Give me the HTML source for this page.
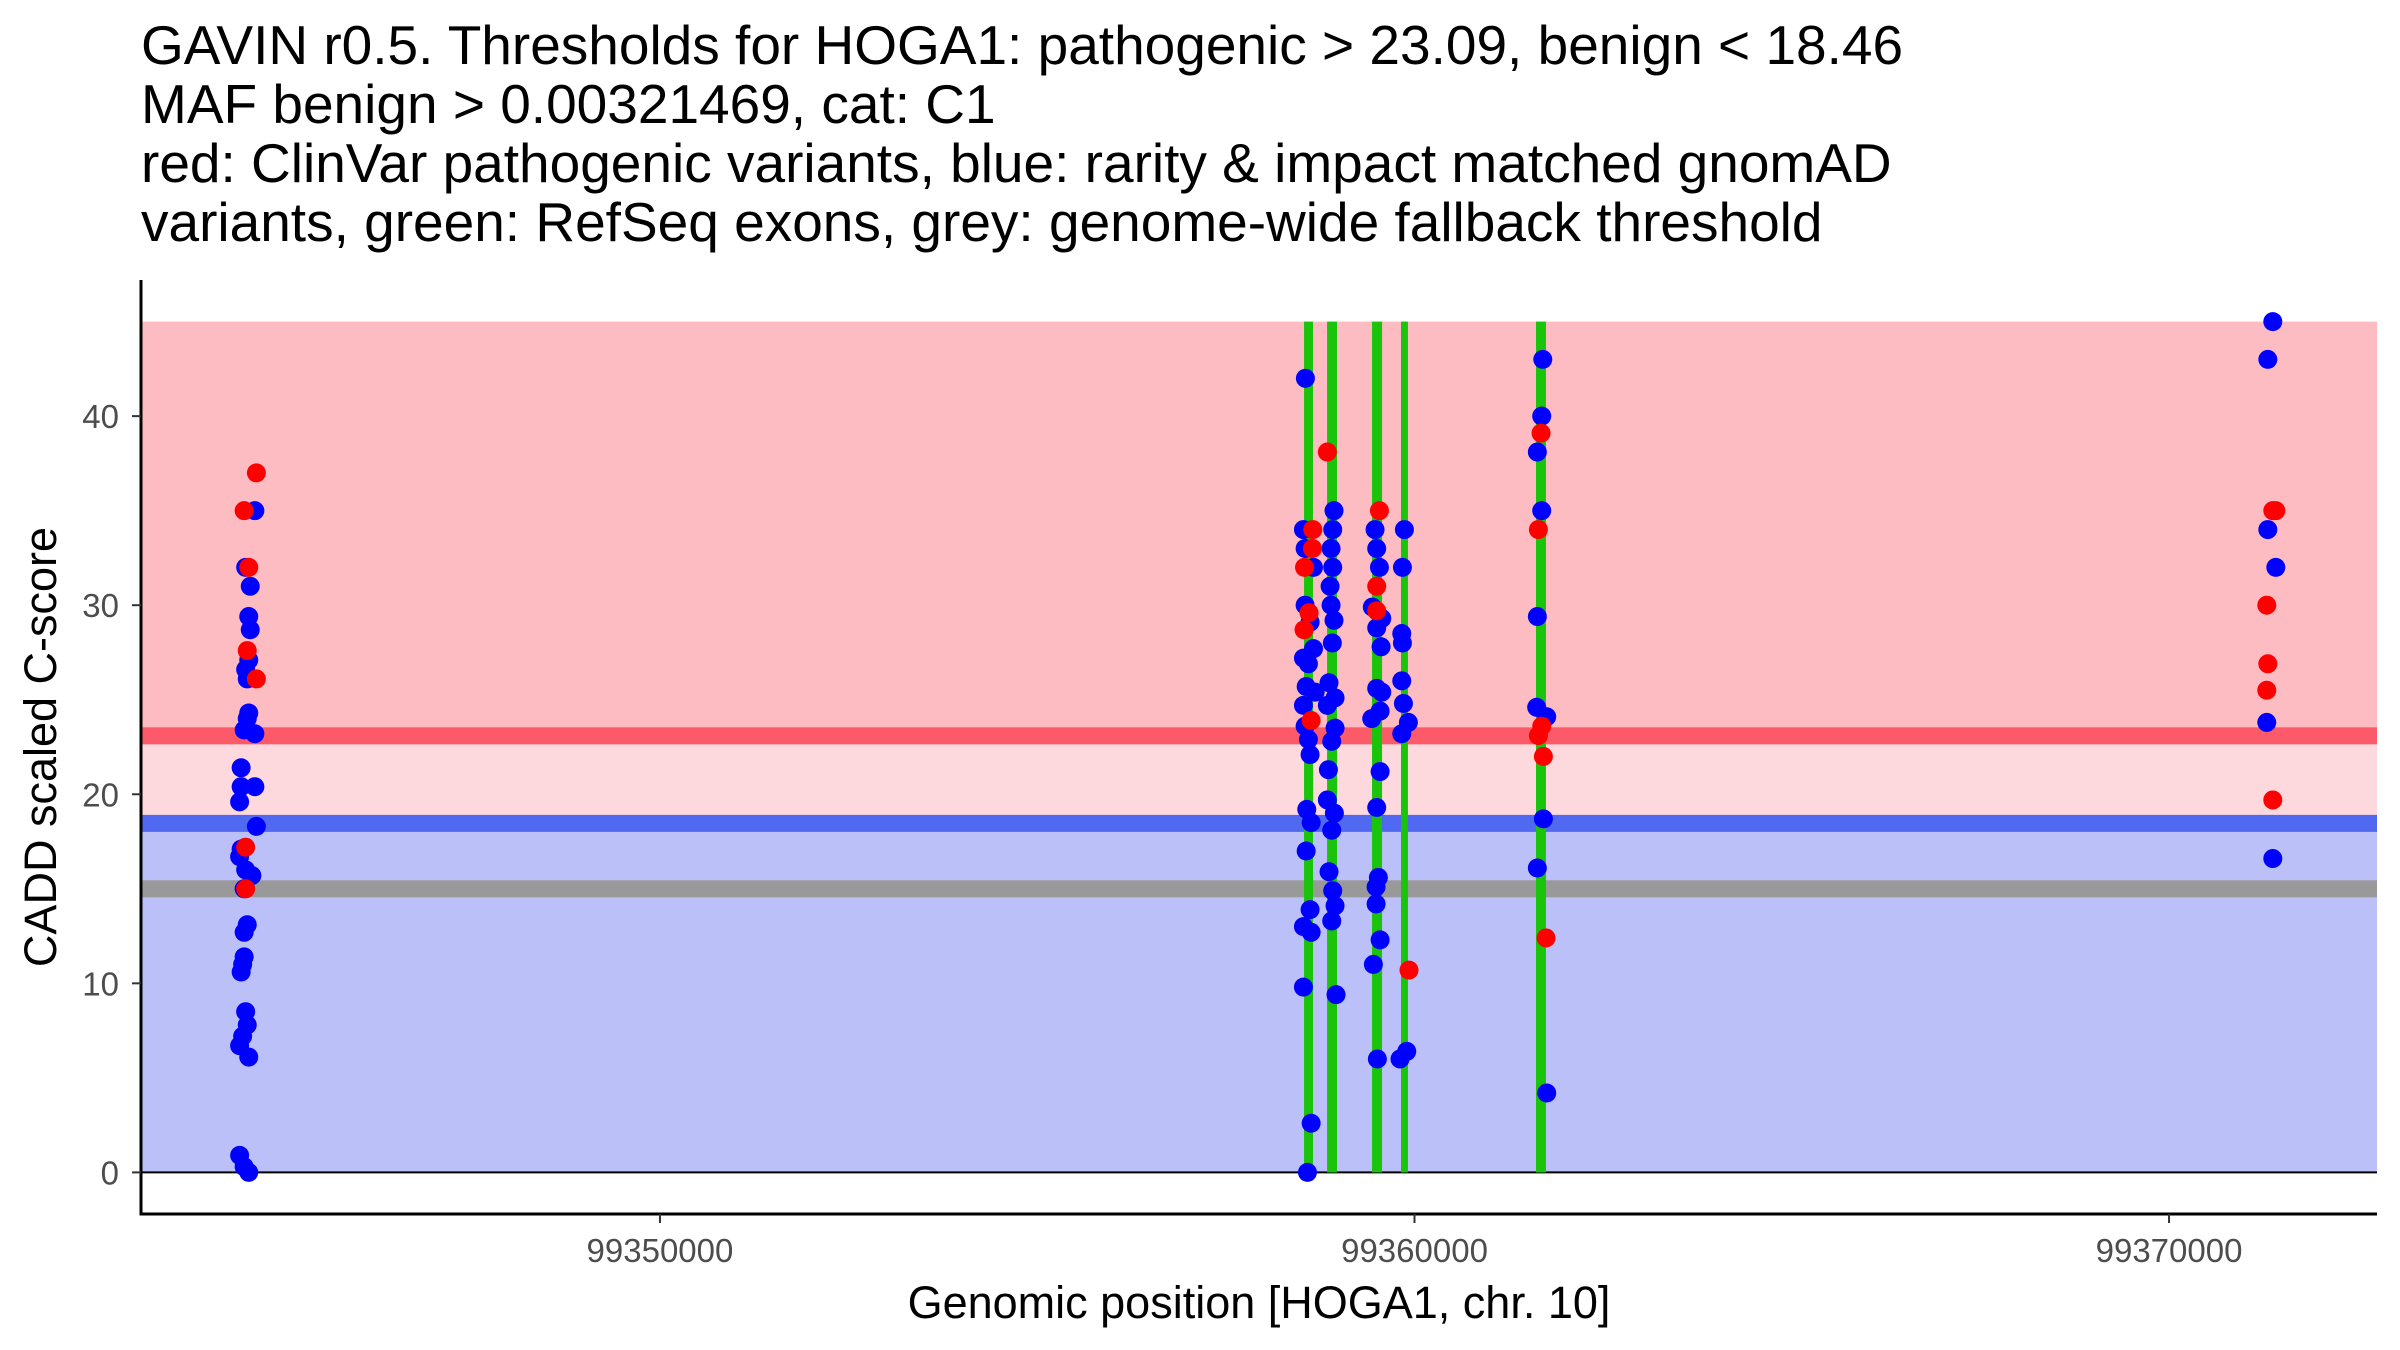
<!DOCTYPE html>
<html><head><meta charset="utf-8"><style>
html,body{margin:0;padding:0;background:#fff;}
svg{display:block;}
text{font-family:"Liberation Sans",Arial,sans-serif;}
</style></head><body>
<svg id="chart" width="2400" height="1350" viewBox="0 0 2400 1350" xmlns="http://www.w3.org/2000/svg">
<g font-size="55" fill="#000">
<text x="141" y="64">GAVIN r0.5. Thresholds for HOGA1: pathogenic &gt; 23.09, benign &lt; 18.46</text>
<text x="141" y="123">MAF benign &gt; 0.00321469, cat: C1</text>
<text x="141" y="182">red: ClinVar pathogenic variants, blue: rarity &amp; impact matched gnomAD</text>
<text x="141" y="241">variants, green: RefSeq exons, grey: genome-wide fallback threshold</text>
</g>
<g id="bands"></g>
<g id="exons"></g>
<g id="points"></g>
<g id="axes"></g>
<text x="0" y="0" font-size="45" text-anchor="middle" transform="translate(56,747) rotate(-90)">CADD scaled C-score</text>
<text x="1259" y="1318" font-size="45" text-anchor="middle">Genomic position [HOGA1, chr. 10]</text>
</svg>
<script>
const xTicks = [99350000, 99360000, 99370000];
const yTicks = [0, 10, 20, 30, 40];
const pathoThr = 23.09, benignThr = 18.46, fallbackThr = 15, bandTop = 45;
const exonStart = [99358536, 99358841, 99359437, 99359821, 99361610];
const exonEnd   = [99358655, 99358973, 99359570, 99359913, 99361742];
// blue gnomAD variants
const blueX = [
99344631,99344509,99344570,99344550,99344570,99344550,99344509,99344530,99344550,99344530,99344489,99344631,99344449,99344449,99344631,99344429,99344651,99344449,99344429,99344509,99344591,99344489,99344530,99344489,99344489,99344469,99344449,99344509,99344530,99344469,99344429,99344550,99344429,99344489,99344550,
99358554,99358528,99358550,99358661,99358550,99358616,99358661,99358528,99358594,99358564,99358683,99358528,99358550,99358594,99358616,99358572,99358630,99358564,99358616,99358528,99358630,99358528,99358630,99358581,
99358933,99358916,99358894,99358916,99358881,99358894,99358933,99358911,99358867,99358947,99358845,99358947,99358903,99358859,99358845,99358938,99358903,99358867,99358916,99358947,99358903,99358960,
99359477,99359499,99359535,99359441,99359566,99359499,99359557,99359499,99359566,99359544,99359433,99359544,99359499,99359521,99359491,99359491,99359544,99359455,99359508,
99359866,99359840,99359831,99359840,99359831,99359853,99359919,99359831,99359897,99359808,
99361700,99361686,99361628,99361686,99361628,99361619,99361752,99361708,99361628,99361752,
99371375,99371309,99371309,99371415,99371295,99371375];
const blueY = [
35,32,31,29.4,28.7,27.1,26.6,26.1,24.3,24,23.4,23.2,21.4,20.4,20.4,19.6,18.3,17.1,16.7,16,15.7,15,13.1,12.7,11.4,11,10.6,8.5,7.8,7.2,6.7,6.1,0.9,0.3,0,
42,34,33,32,30,29.1,27.7,27.2,26.9,25.7,25.4,24.7,23.6,22.9,22.1,19.2,18.5,17,13.9,13,12.7,9.8,2.6,0,
35,34,33,32,31,30,29.2,28,25.9,25.1,24.7,23.5,22.8,21.3,19.7,19,18.1,15.9,14.9,14.1,13.3,9.4,
34,33,32,29.9,29.3,28.8,27.8,25.6,25.4,24.4,24,21.2,19.3,15.6,15.1,14.2,12.3,11,6,
34,32,28.5,28,26,24.8,23.8,23.2,6.4,6,
43,40,38.1,35,29.4,24.6,24.1,18.7,16.1,4.2,
45,43,34,32,23.8,16.6];
// red ClinVar pathogenic variants
const redX = [
99344651,99344489,99344550,99344530,99344651,99344509,99344509,
99358652,99358648,99358542,99358602,99358536,99358630,
99358845,99359535,99359499,99359499,99359927,
99361677,99361642,99361686,99361642,99361708,99361743,
99371375,99371415,99371295,99371309,99371295,99371375];
const redY = [
37,35,32,27.6,26.1,17.2,15,
34,33,32,29.6,28.7,23.9,
38.1,35,31,29.7,10.7,
39.1,34,23.6,23.1,22,12.4,
35,35,30,26.9,25.5,19.7];

const NS='http://www.w3.org/2000/svg';
const X0=141, X1=2377, Y0=1214, Ytop=280;
const xMin=99343122, xMax=99372756, yMin=-2.2, yMax=47.2;
function xs(v){return X0+(v-xMin)/(xMax-xMin)*(X1-X0);}
function ys(v){return Y0-(v-yMin)/(yMax-yMin)*(Y0-Ytop);}
function mk(tag,attrs,parent){const e=document.createElementNS(NS,tag);for(const k in attrs)e.setAttribute(k,attrs[k]);parent.appendChild(e);return e;}

const bands=document.getElementById('bands');
let r;
r=mk('rect',{x:X0,y:ys(bandTop),width:X1-X0,height:ys(pathoThr)-ys(bandTop),fill:'#fcbcc1'},bands);


r=mk('rect',{x:X0,y:ys(pathoThr),width:X1-X0,height:ys(benignThr)-ys(pathoThr),fill:'#fdd8dc'},bands);


r=mk('rect',{x:X0,y:ys(benignThr),width:X1-X0,height:ys(0)-ys(benignThr),fill:'#bbc0f8'},bands);


r=mk('rect',{x:X0,y:ys(pathoThr)-8.5,width:X1-X0,height:17,fill:'#fc5a68'},bands);


r=mk('rect',{x:X0,y:ys(benignThr)-8.5,width:X1-X0,height:17,fill:'#5168f0'},bands);


r=mk('rect',{x:X0,y:ys(fallbackThr)-8.5,width:X1-X0,height:17,fill:'#999999'},bands);


r=mk('line',{x1:X0,x2:X1,y1:ys(0),y2:ys(0),stroke:'#000','stroke-width':2},bands);



const ex=document.getElementById('exons');
for(let i=0;i<exonStart.length;i++){
  const e=mk('rect',{x:xs(exonStart[i]),y:ys(bandTop),width:xs(exonEnd[i])-xs(exonStart[i]),height:ys(0)-ys(bandTop),fill:'#1ac40a'},ex);
  
  
}
const pts=document.getElementById('points');
for(let i=0;i<blueX.length;i++){
  const c=mk('circle',{cx:xs(blueX[i]),cy:ys(blueY[i]),r:9.5,fill:'#0000ff'},pts);
  
  
}
for(let i=0;i<redX.length;i++){
  const c=mk('circle',{cx:xs(redX[i]),cy:ys(redY[i]),r:9.5,fill:'#ff0000'},pts);
  
  
}
const ax=document.getElementById('axes');
let a=mk('line',{x1:X0,x2:X0,y1:Ytop,y2:Y0+1.5,stroke:'#000','stroke-width':3},ax);


a=mk('line',{x1:X0-1.5,x2:X1,y1:Y0,y2:Y0,stroke:'#000','stroke-width':3},ax);


for(const t of yTicks){
  const l=mk('line',{x1:X0-9,x2:X0,y1:ys(t),y2:ys(t),stroke:'#333','stroke-width':2},ax);
  
  
  const tx=mk('text',{x:X0-22,y:ys(t)+12,'font-size':33,'text-anchor':'end',fill:'#4d4d4d'},ax);
  tx.textContent=t;
  
  
}
for(const t of xTicks){
  const l=mk('line',{x1:xs(t),x2:xs(t),y1:Y0,y2:Y0+9,stroke:'#333','stroke-width':2},ax);
  
  
  const tx=mk('text',{x:xs(t),y:Y0+48,'font-size':33,'text-anchor':'middle',fill:'#4d4d4d'},ax);
  tx.textContent=t;
  
  
}
</script>
</body></html>
